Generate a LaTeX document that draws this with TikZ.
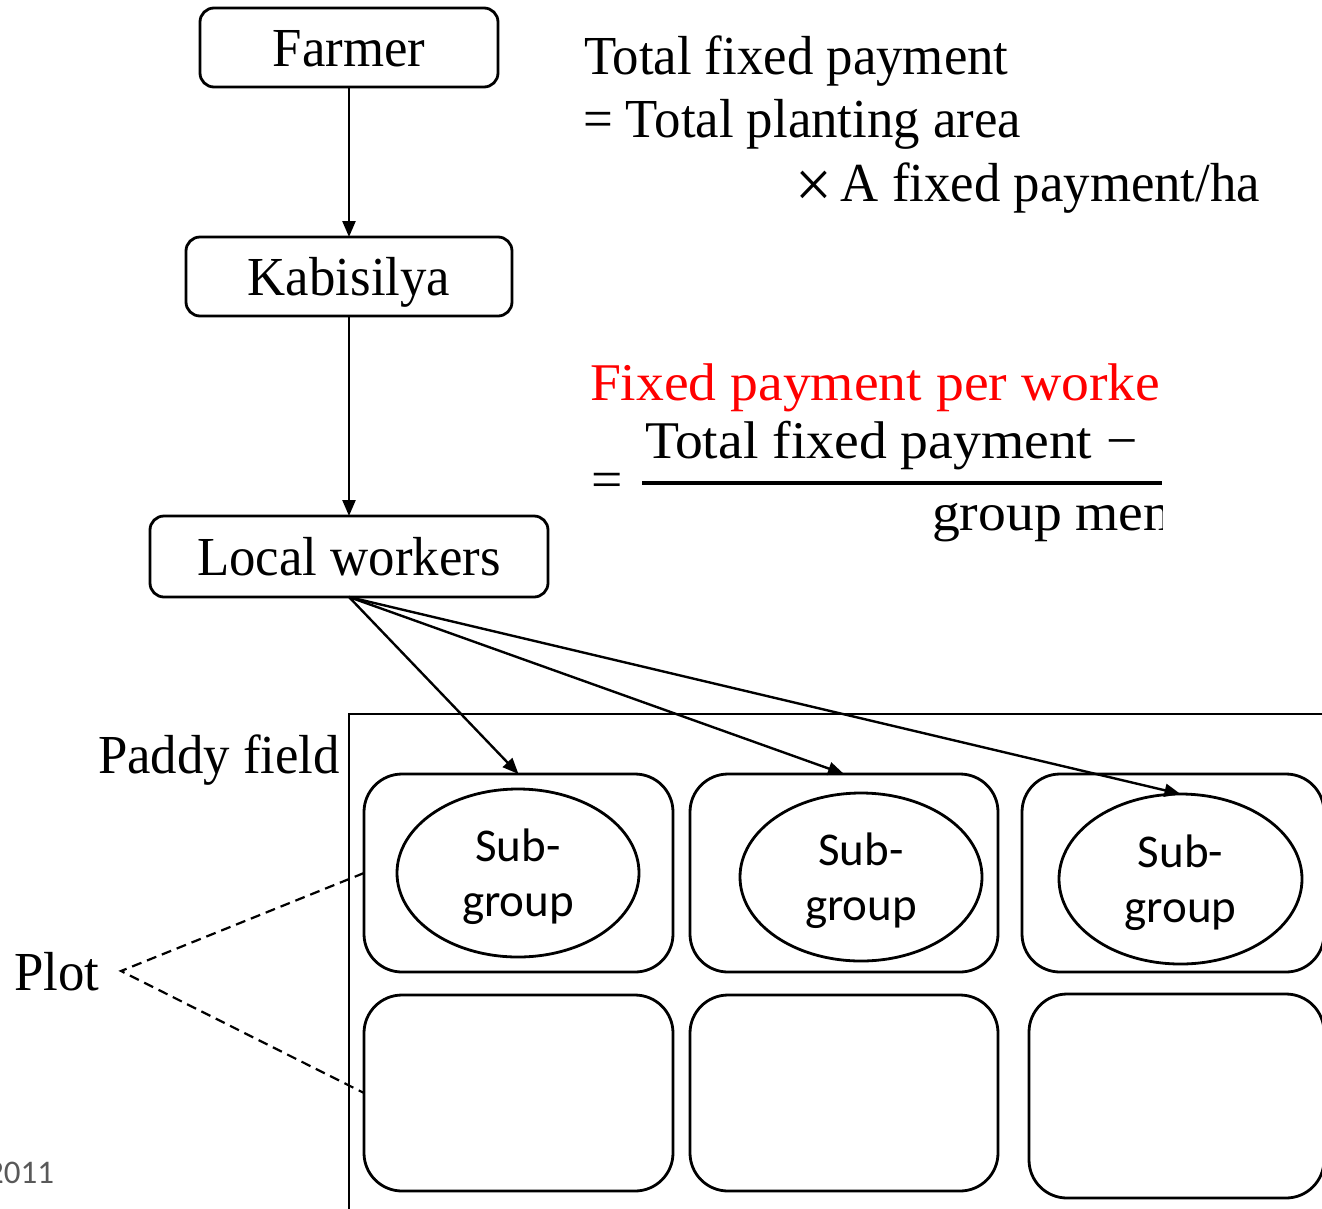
\documentclass[tikz,border=0pt]{standalone}
\usepackage{fontspec}
\setmainfont{Liberation Serif}[FakeStretch=0.96]
\newfontfamily\eqfont{Liberation Serif}[FakeStretch=1.05]
\newfontfamily\calfont{Carlito}
\usetikzlibrary{arrows.meta,shapes.geometric}
\definecolor{redtxt}{RGB}{255,0,0}
\definecolor{graytxt}{RGB}{89,89,89}
\newcommand{\sgtext}{\rule{0pt}{41pt}Sub-\\group}
\begin{document}
\begin{tikzpicture}[x=1pt,y=-1pt,
  every node/.style={inner sep=0pt,outer sep=0pt},
  flowbox/.style={draw,line width=2.8pt,rounded corners=14pt,font=\fontsize{55}{60}\selectfont,text height=37pt,text depth=0pt},
  plotbox/.style={draw,line width=2.8pt,rounded corners=38pt},
  subg/.style={draw,ellipse,line width=2.8pt,font=\calfont\fontsize{47}{55}\selectfont,align=center},
  big/.style={font=\fontsize{55}{60}\selectfont},
  eqtxt/.style={font=\eqfont\fontsize{53}{60}\selectfont},
  link/.style={line width=2.4pt,-{Triangle[length=16pt,width=13pt]}},
  plotlink/.style={line width=2.2pt,dash pattern=on 10pt off 6pt}]
\useasboundingbox (0,0) rectangle (1322,1208);
\clip (0,0) rectangle (1322,1208);

% flow boxes
\node[flowbox,minimum width=298pt,minimum height=79pt] (farmer) at (349,47.5) {Farmer};
\node[flowbox,minimum width=326pt,minimum height=79pt] (kab) at (349,276.5) {Kabisilya};
\node[flowbox,minimum width=398pt,minimum height=81pt] (lw) at (349,556.5) {Local workers};

% paddy field frame
\coordinate (pfTL) at (349,714);
\coordinate (pfR) at (1340,714);
\coordinate (pfB) at (349,1220);
\draw[line width=2.8pt] (pfR) -- (pfTL) -- (pfB);
\node[big,anchor=base east] (paddy) at (340,773) {Paddy field};

% plots
\node[plotbox,minimum width=309pt,minimum height=198pt] (p11) at (518.5,873) {};
\node[plotbox,minimum width=308pt,minimum height=198pt] (p12) at (844,873) {};
\node[plotbox,minimum width=302pt,minimum height=198pt] (p13) at (1173,873) {};
\node[plotbox,minimum width=309pt,minimum height=196pt] (p21) at (518.5,1093) {};
\node[plotbox,minimum width=308pt,minimum height=196pt] (p22) at (844,1093) {};
\node[plotbox,minimum width=295pt,minimum height=204pt] (p23) at (1176.5,1096) {};

% sub-groups
\node[subg,minimum width=242pt,minimum height=168pt] (e1) at (518,873) {\sgtext};
\node[subg,minimum width=242pt,minimum height=168pt] (e2) at (861,877) {\sgtext};
\node[subg,minimum width=243pt,minimum height=170pt] (e3) at (1180.5,879) {\sgtext};

% connectors
\draw[link] (farmer) -- (kab);
\draw[link] (kab) -- (lw);
\draw[link] (lw.south) -- (p11.north);
\draw[link] (lw.south) -- (p12.north);
\draw[link] (lw.south) -- (e3.north);

% plot label
\node[big,anchor=base west] (plot) at (14,990) {Plot};
\coordinate (tip) at (121,971);
\draw[plotlink] (p11.west) -- (tip) -- (p21.west);

% formula 1
\node[big,anchor=base west] (f1a) at (584,74) {Total fixed payment};
\node[big,anchor=base west] (f1b) at (583,137) {= Total planting area};
\node[big,anchor=base west] (f1c) at (795,201) {\raisebox{-6pt}{\fontsize{68}{60}\selectfont ×}\hspace{9pt}A fixed payment/ha};

% formula 2
\begin{scope}
\clip (560,340) rectangle (1162,560);
\node[eqtxt,text=redtxt,anchor=base west] (f2a) at (590,400) {Fixed payment per worke};
\node[eqtxt,anchor=base west] (f2num) at (645,458) {Total fixed payment −};
\node[eqtxt,anchor=base west] (f2den) at (932,530) {group mem};
\end{scope}
\node[eqtxt,anchor=base west] (f2eq) at (591,497) {=};
\draw[line width=3.5pt] (642,483) -- (1162,483);

% year
\node[font=\calfont\fontsize{33}{40}\selectfont,text=graytxt,anchor=base east] (yr) at (54,1183) {2011};
\end{tikzpicture}
\end{document}
